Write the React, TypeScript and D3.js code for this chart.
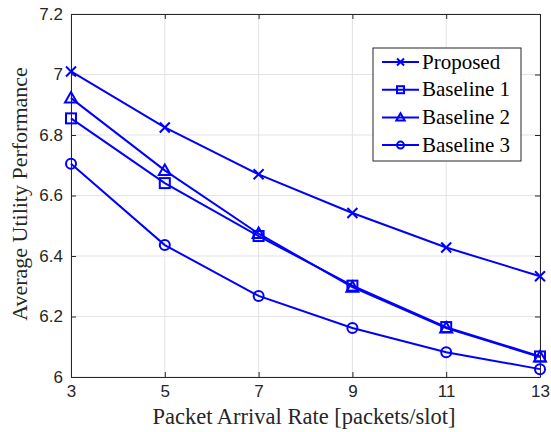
import React, { useEffect, useRef } from "react";
import * as d3 from "d3";

const xValues = [3, 5, 7, 9, 11, 13];
const proposed = [7.01, 6.825, 6.67, 6.542, 6.428, 6.333];
const baseline1 = [6.855, 6.641, 6.466, 6.302, 6.165, 6.068];
const baseline2 = [6.922, 6.683, 6.474, 6.297, 6.162, 6.066];
const baseline3 = [6.705, 6.436, 6.268, 6.162, 6.082, 6.026];
const seriesNames = ["Proposed", "Baseline 1", "Baseline 2", "Baseline 3"];
const markers = ["x", "square", "triangle", "circle"];
const xTicks = [3, 5, 7, 9, 11, 13];
const yTicks = [6, 6.2, 6.4, 6.6, 6.8, 7, 7.2];

const BLUE = "#0000ff";
const SERIF = "Liberation Serif, Times New Roman, serif";

function drawMarker(g: any, type: string, cx: number, cy: number, s: number) {
  if (type === "x") {
    g.append("path")
      .attr("d", `M${cx - s},${cy - s}L${cx + s},${cy + s}M${cx - s},${cy + s}L${cx + s},${cy - s}`)
      .attr("stroke", BLUE)
      .attr("stroke-width", 2)
      .attr("fill", "none");
  } else if (type === "square") {
    g.append("rect")
      .attr("x", cx - s)
      .attr("y", cy - s)
      .attr("width", 2 * s)
      .attr("height", 2 * s)
      .attr("stroke", BLUE)
      .attr("stroke-width", 2)
      .attr("fill", "none");
  } else if (type === "triangle") {
    const h = s * 1.2;
    g.append("path")
      .attr("d", `M${cx},${cy - h}L${cx + h},${cy + h * 0.75}L${cx - h},${cy + h * 0.75}Z`)
      .attr("stroke", BLUE)
      .attr("stroke-width", 2)
      .attr("fill", "none");
  } else {
    g.append("circle")
      .attr("cx", cx)
      .attr("cy", cy)
      .attr("r", s)
      .attr("stroke", BLUE)
      .attr("stroke-width", 2)
      .attr("fill", "none");
  }
}

function Chart() {
  const ref = useRef<SVGSVGElement>(null);
  useEffect(() => {
    const svg = d3.select(ref.current);
    svg.selectAll("*").remove();
    const left = 71, right = 540, top = 14, bottom = 377;

    const x = d3.scaleLinear().domain([3, 13]).range([left, right]);
    const y = d3.scaleLinear().domain([6, 7.2]).range([bottom, top]);

    svg.append("rect").attr("width", 551).attr("height", 432).attr("fill", "#fff");

    // grid
    const grid = svg.append("g");
    xTicks.forEach(t => {
      grid.append("line")
        .attr("x1", x(t)).attr("x2", x(t)).attr("y1", top).attr("y2", bottom)
        .attr("stroke", "#e3e3e3").attr("stroke-width", 1);
    });
    yTicks.forEach(t => {
      grid.append("line")
        .attr("x1", left).attr("x2", right).attr("y1", y(t)).attr("y2", y(t))
        .attr("stroke", "#e3e3e3").attr("stroke-width", 1);
    });

    // axes box
    const axisColor = "#262626";
    const xAxis = d3.axisBottom(x).tickValues(xTicks).tickSizeInner(-5).tickSizeOuter(0).tickPadding(8).tickFormat(d3.format("d"));
    const yAxis = d3.axisLeft(y).tickValues(yTicks).tickSizeInner(-5).tickSizeOuter(0).tickPadding(8).tickFormat(d => String(+d));
    const xg = svg.append("g").attr("transform", `translate(0,${bottom})`).call(xAxis);
    const yg = svg.append("g").attr("transform", `translate(${left},0)`).call(yAxis);
    const xTop = svg.append("g").attr("transform", `translate(0,${top})`)
      .call(d3.axisTop(x).tickValues(xTicks).tickSizeInner(-5).tickSizeOuter(0).tickFormat(() => ""));
    const yRight = svg.append("g").attr("transform", `translate(${right},0)`)
      .call(d3.axisRight(y).tickValues(yTicks).tickSizeInner(-5).tickSizeOuter(0).tickFormat(() => ""));
    [xg, yg, xTop, yRight].forEach(a => {
      a.select(".domain").attr("stroke", axisColor).attr("stroke-width", 1);
      a.selectAll(".tick line").attr("stroke", axisColor);
      a.selectAll(".tick text")
        .attr("fill", axisColor)
        .style("font-family", "Liberation Sans, Arial, sans-serif")
        .style("font-size", "17px");
    });

    // series
    const allSeries = [proposed, baseline1, baseline2, baseline3];
    const line = d3.line<number>().x((d, i) => x(xValues[i])).y(d => y(d));
    allSeries.forEach((s, k) => {
      const g = svg.append("g");
      g.append("path")
        .attr("d", line(s))
        .attr("fill", "none")
        .attr("stroke", BLUE)
        .attr("stroke-width", 2);
      s.forEach((v, i) => {
        drawMarker(g, markers[k], x(xValues[i]), y(v), 5);
      });
    });

    // legend
    const lg = svg.append("g");
    lg.append("rect")
      .attr("x", 373).attr("y", 48).attr("width", 148).attr("height", 113)
      .attr("fill", "#fff").attr("stroke", axisColor).attr("stroke-width", 1);
    seriesNames.forEach((name, k) => {
      const ly = 62 + k * 27.7;
      lg.append("line")
        .attr("x1", 382).attr("x2", 419).attr("y1", ly).attr("y2", ly)
        .attr("stroke", BLUE).attr("stroke-width", 2);
      drawMarker(lg, markers[k], 400.5, ly, 3.5);
      lg.append("text")
        .attr("x", 422).attr("y", ly + 6.5)
        .style("font-family", SERIF)
        .style("font-size", "21px")
        .attr("fill", "#000")
        .text(name);
    });

    // labels
    svg.append("text")
      .attr("x", 304).attr("y", 424)
      .attr("text-anchor", "middle")
      .style("font-family", SERIF)
      .style("font-size", "22.5px")
      .attr("fill", "#262626")
      .text("Packet Arrival Rate [packets/slot]");
    svg.append("text")
      .attr("transform", `translate(27,194) rotate(-90)`)
      .attr("text-anchor", "middle")
      .style("font-family", SERIF)
      .style("font-size", "22px")
      .attr("fill", "#262626")
      .text("Average Utility Performance");
  }, []);
  return <svg ref={ref} width={551} height={432} style={{ display: "block" }} />;
}

export default function App() {
  return (
    <div style={{ position: "fixed", left: 0, top: 0, width: 551, height: 432, overflow: "hidden" }}>
      <Chart />
    </div>
  );
}
